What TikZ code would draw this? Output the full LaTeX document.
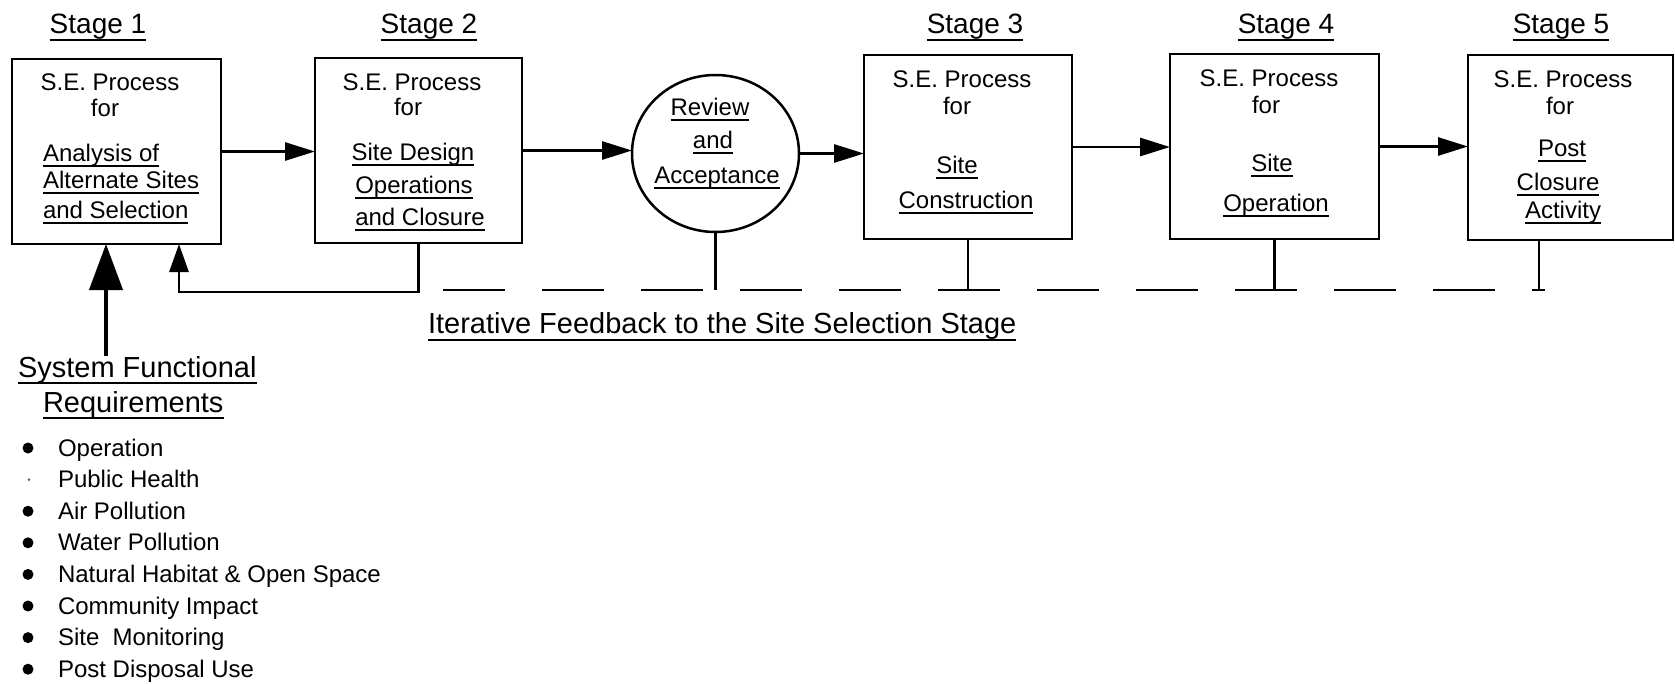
\documentclass[tikz,border=0pt]{standalone}
\usepackage{fontspec}
\setmainfont{Liberation Sans}
\usetikzlibrary{arrows.meta,shapes.geometric}
\newcommand\ulx[2][5]{\setbox0=\hbox{#2}\leavevmode\rlap{\vrule height -#1pt depth \numexpr#1+2\relax pt width \wd0}\box0}
\begin{document}
\begin{tikzpicture}[x=1pt,y=-1pt,
  every node/.style={inner sep=0pt, outer sep=0pt},
  box/.style={draw, line width=2.5pt, rectangle},
  conn/.style={line width=2.8pt},
  arr/.style={conn, -{Triangle[length=30pt,width=18pt]}},
  t/.style={anchor=base, font=\fontsize{24}{28}\selectfont},
  tl/.style={anchor=base west, font=\fontsize{24}{28}\selectfont},
  stg/.style={anchor=base, font=\fontsize{28}{32}\selectfont},
  big/.style={anchor=base west, font=\fontsize{29}{34}\selectfont},
  ]
\useasboundingbox (0,0) rectangle (1675,683);

% stage labels
\node[stg] (s1) at (98,33) {\ulx[6]{Stage 1}};
\node[stg] (s2) at (429,33) {\ulx[6]{Stage 2}};
\node[stg] (s3) at (975,33) {\ulx[6]{Stage 3}};
\node[stg] (s4) at (1286,33) {\ulx[6]{Stage 4}};
\node[stg] (s5) at (1561,33) {\ulx[6]{Stage 5}};

% boxes
\node[box, minimum width=209pt, minimum height=185pt] (b1) at (116.5,151.5) {};
\node[box, minimum width=207pt, minimum height=185pt] (b2) at (418.5,150.5) {};
\node[draw, ellipse, line width=2.5pt, minimum width=167pt, minimum height=157pt] (rv) at (715.5,153.5) {};
\node[box, minimum width=208pt, minimum height=184pt] (b3) at (968,147) {};
\node[box, minimum width=209pt, minimum height=185pt] (b4) at (1274.5,146.5) {};
\node[box, minimum width=205pt, minimum height=185pt] (b5) at (1570.5,147.5) {};

% box 1 text
\node[t] (b1a) at (110,90) {S.E. Process};
\node[t] (b1b) at (105,116) {for};
\node[tl] (b1c) at (43,161) {\ulx[4]{Analysis of}};
\node[tl] (b1d) at (43,188) {\ulx[4]{Alternate Sites}};
\node[tl] (b1e) at (43,218) {\ulx[4]{and Selection}};
% box 2 text
\node[t] (b2a) at (412,90) {S.E. Process};
\node[t] (b2b) at (408,115) {for};
\node[t] (b2c) at (413,160) {\ulx[4]{Site Design}};
\node[t] (b2d) at (414,193) {\ulx[4]{Operations}};
\node[t] (b2e) at (420,225) {\ulx[4]{and Closure}};
% review
\node[t] (rva) at (710,115) {\ulx[4]{Review}};
\node[t] (rvb) at (713,148) {\ulx[4]{and}};
\node[t] (rvc) at (717,183) {\ulx[4]{Acceptance}};
% box 3 text
\node[t] (b3a) at (962,87) {S.E. Process};
\node[t] (b3b) at (957,114) {for};
\node[t] (b3c) at (957,173) {\ulx[4]{Site}};
\node[t] (b3d) at (966,208) {\ulx[4]{Construction}};
% box 4 text
\node[t] (b4a) at (1269,86) {S.E. Process};
\node[t] (b4b) at (1266,113) {for};
\node[t] (b4c) at (1272,171) {\ulx[4]{Site}};
\node[t] (b4d) at (1276,211) {\ulx[4]{Operation}};
% box 5 text
\node[t] (b5a) at (1563,87) {S.E. Process};
\node[t] (b5b) at (1560,114) {for};
\node[t] (b5c) at (1562,156) {\ulx[4]{Post}};
\node[t] (b5d) at (1558,190) {\ulx[4]{Closure}};
\node[t] (b5e) at (1563,218) {\ulx[4]{Activity}};

% main flow
\draw[arr] (b1.east) -- (b1.east -| b2.west);
\draw[arr] (b2.east) -- (b2.east -| rv.west);
\draw[arr] (rv.east) -- (rv.east -| b3.west);
\draw[arr] (b3.east) -- (b3.east -| b4.west);
\draw[arr] (b4.east) -- (b4.east -| b5.west);

% feedback from stage 2
\coordinate (fbL) at (179,292);
\draw[conn, -{Triangle[length=28pt,width=19pt]}] (b2.south) |- (fbL) -- (fbL |- b1.south);

% dashed feedback line
\coordinate (dA) at (443,290);
\coordinate (dB) at (1545,290);
\draw[conn, dash pattern=on 62pt off 37pt] (dA) -- (dB);
\draw[conn] (rv.south) -- (rv.south |- dA);
\draw[conn] (b3.south) -- (b3.south |- dA);
\draw[conn] (b4.south) -- (b4.south |- dA);
\coordinate (st5) at (1539,0);
\draw[conn] (st5 |- b5.south) -- (st5 |- dA);

\node[big] (fbt) at (428,333) {\ulx[6]{Iterative Feedback to the Site Selection Stage}};

% system functional requirements
\node[big] (sf) at (18,377) {\ulx[5]{System Functional}};
\node[big] (sr) at (43,412) {\ulx[5]{Requirements}};
\coordinate (sfx) at (106,0);
\draw[line width=4pt, -{Triangle[length=46pt,width=33pt]}] (sfx |- sf.north) -- (sfx |- b1.south);

\foreach \i/\txt in {0/Operation,1/Public Health,2/Air Pollution,3/Water Pollution,4/Natural Habitat \& Open Space,5/Community Impact,6/Site\hspace{0.55em}Monitoring,7/Post Disposal Use}{
  \node[tl] (li\i) at (58,{456+31.6*\i}) {\txt};
}
\foreach \i in {0,2,3,4,5,6,7}{
  \fill (28,{448+31.6*\i}) circle (5.5pt);
}
\fill[black!60] (29,{448+31.6}) circle (1.5pt);
\end{tikzpicture}
\end{document}
